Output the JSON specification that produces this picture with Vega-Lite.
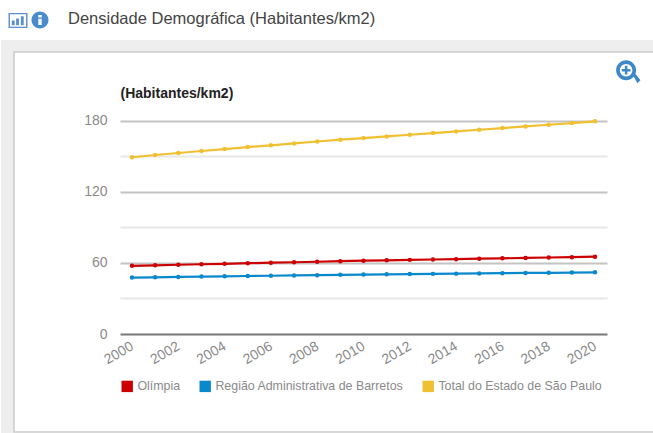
{"$schema":"https://vega.github.io/schema/vega-lite/v6.json","width":653,"height":433,"padding":0,"autosize":{"type":"none"},"background":"#ffffff","config":{"view":{"stroke":null},"font":"Liberation Sans"},
"title":{"text":"Densidade Demográfica (Habitantes/km2)","anchor":"start","frame":"group","dx":68,"offset":-27,"fontSize":16.5,"fontWeight":"normal","color":"#444444","font":"Liberation Sans"},
"datasets":{"series":[
{"year":"2000","s":"Olímpia","v":57.5},{"year":"2001","s":"Olímpia","v":57.9},{"year":"2002","s":"Olímpia","v":58.4},{"year":"2003","s":"Olímpia","v":58.8},{"year":"2004","s":"Olímpia","v":59.2},{"year":"2005","s":"Olímpia","v":59.7},{"year":"2006","s":"Olímpia","v":60.1},{"year":"2007","s":"Olímpia","v":60.5},{"year":"2008","s":"Olímpia","v":60.9},{"year":"2009","s":"Olímpia","v":61.4},{"year":"2010","s":"Olímpia","v":61.8},{"year":"2011","s":"Olímpia","v":62.1},{"year":"2012","s":"Olímpia","v":62.5},{"year":"2013","s":"Olímpia","v":62.8},{"year":"2014","s":"Olímpia","v":63.1},{"year":"2015","s":"Olímpia","v":63.5},{"year":"2016","s":"Olímpia","v":63.8},{"year":"2017","s":"Olímpia","v":64.1},{"year":"2018","s":"Olímpia","v":64.5},{"year":"2019","s":"Olímpia","v":64.8},{"year":"2020","s":"Olímpia","v":65.2},
{"year":"2000","s":"Região Administrativa de Barretos","v":47.6},{"year":"2001","s":"Região Administrativa de Barretos","v":47.8},{"year":"2002","s":"Região Administrativa de Barretos","v":48.1},{"year":"2003","s":"Região Administrativa de Barretos","v":48.4},{"year":"2004","s":"Região Administrativa de Barretos","v":48.6},{"year":"2005","s":"Região Administrativa de Barretos","v":48.9},{"year":"2006","s":"Região Administrativa de Barretos","v":49.1},{"year":"2007","s":"Região Administrativa de Barretos","v":49.4},{"year":"2008","s":"Região Administrativa de Barretos","v":49.6},{"year":"2009","s":"Região Administrativa de Barretos","v":49.9},{"year":"2010","s":"Região Administrativa de Barretos","v":50.1},{"year":"2011","s":"Região Administrativa de Barretos","v":50.3},{"year":"2012","s":"Região Administrativa de Barretos","v":50.5},{"year":"2013","s":"Região Administrativa de Barretos","v":50.7},{"year":"2014","s":"Região Administrativa de Barretos","v":50.9},{"year":"2015","s":"Região Administrativa de Barretos","v":51.1},{"year":"2016","s":"Região Administrativa de Barretos","v":51.3},{"year":"2017","s":"Região Administrativa de Barretos","v":51.5},{"year":"2018","s":"Região Administrativa de Barretos","v":51.6},{"year":"2019","s":"Região Administrativa de Barretos","v":51.8},{"year":"2020","s":"Região Administrativa de Barretos","v":52.0},
{"year":"2000","s":"Total do Estado de São Paulo","v":149.0},{"year":"2001","s":"Total do Estado de São Paulo","v":150.9},{"year":"2002","s":"Total do Estado de São Paulo","v":152.6},{"year":"2003","s":"Total do Estado de São Paulo","v":154.3},{"year":"2004","s":"Total do Estado de São Paulo","v":155.9},{"year":"2005","s":"Total do Estado de São Paulo","v":157.6},{"year":"2006","s":"Total do Estado de São Paulo","v":159.1},{"year":"2007","s":"Total do Estado de São Paulo","v":160.7},{"year":"2008","s":"Total do Estado de São Paulo","v":162.3},{"year":"2009","s":"Total do Estado de São Paulo","v":163.8},{"year":"2010","s":"Total do Estado de São Paulo","v":165.2},{"year":"2011","s":"Total do Estado de São Paulo","v":166.6},{"year":"2012","s":"Total do Estado de São Paulo","v":168.0},{"year":"2013","s":"Total do Estado de São Paulo","v":169.4},{"year":"2014","s":"Total do Estado de São Paulo","v":170.8},{"year":"2015","s":"Total do Estado de São Paulo","v":172.2},{"year":"2016","s":"Total do Estado de São Paulo","v":173.6},{"year":"2017","s":"Total do Estado de São Paulo","v":175.0},{"year":"2018","s":"Total do Estado de São Paulo","v":176.4},{"year":"2019","s":"Total do Estado de São Paulo","v":177.8},{"year":"2020","s":"Total do Estado de São Paulo","v":179.3}
]},
"layer":[
{"data":{"values":[{"p":"top"}]},"mark":{"type":"rect","fill":"#eeeeee"},"encoding":{"x":{"field":"p","type":"nominal","axis":null,"scale":{"type":"band","range":[1,653],"paddingInner":0,"paddingOuter":0}},"y":{"field":"p","type":"nominal","axis":null,"scale":{"type":"band","range":[40,52],"paddingInner":0,"paddingOuter":0}}}},
{"data":{"values":[{"p":"left"}]},"mark":{"type":"rect","fill":"#eeeeee"},"encoding":{"x":{"field":"p","type":"nominal","axis":null,"scale":{"type":"band","range":[1,14],"paddingInner":0,"paddingOuter":0}},"y":{"field":"p","type":"nominal","axis":null,"scale":{"type":"band","range":[40,433],"paddingInner":0,"paddingOuter":0}}}},
{"data":{"values":[{"p":"panel"}]},"mark":{"type":"rect","fill":null,"stroke":"#cccccc","strokeWidth":1.5},"encoding":{"x":{"field":"p","type":"nominal","axis":null,"scale":{"type":"band","range":[14,660],"paddingInner":0,"paddingOuter":0}},"y":{"field":"p","type":"nominal","axis":null,"scale":{"type":"band","range":[52,432],"paddingInner":0,"paddingOuter":0}}}},
{"data":{"values":[{"i":"chart"}]},"mark":{"type":"point","filled":true,"opacity":1,"size":361,"color":"#5b8fd0","shape":"M-1,-0.8L1,-0.8L1,0.8L-1,0.8ZM-0.85,-0.65L-0.85,0.65L0.85,0.65L0.85,-0.65ZM-0.65,0L-0.35,0L-0.35,0.5L-0.65,0.5ZM-0.2,-0.2L0.1,-0.2L0.1,0.5L-0.2,0.5ZM0.3,-0.45L0.6,-0.45L0.6,0.5L0.3,0.5Z"},"encoding":{"x":{"field":"i","type":"nominal","axis":null,"scale":{"type":"point","range":[18,18]}},"y":{"field":"i","type":"nominal","axis":null,"scale":{"type":"point","range":[20.5,20.5]}}}},
{"data":{"values":[{"i":"info"}]},"mark":{"type":"point","filled":true,"opacity":1,"size":289,"color":"#4a8bc9","shape":"M0,-1A1,1 0 1,1 0,1A1,1 0 1,1 0,-1ZM-0.2,-0.15L-0.2,0.6L0.2,0.6L0.2,-0.15ZM-0.2,-0.6L-0.2,-0.3L0.2,-0.3L0.2,-0.6Z"},"encoding":{"x":{"field":"i","type":"nominal","axis":null,"scale":{"type":"point","range":[40,40]}},"y":{"field":"i","type":"nominal","axis":null,"scale":{"type":"point","range":[20,20]}}}},
{"data":{"values":[{"i":"zoom"}]},"mark":{"type":"point","filled":true,"opacity":1,"size":625,"color":"#3f88c8","shape":"M-0.15,-0.95A0.8,0.8 0 1,1 -0.15,0.65A0.8,0.8 0 1,1 -0.15,-0.95ZM-0.15,-0.65A0.5,0.5 0 1,0 -0.15,0.35A0.5,0.5 0 1,0 -0.15,-0.65ZM-0.25,-0.5L-0.05,-0.5L-0.05,-0.25L0.2,-0.25L0.2,-0.05L-0.05,-0.05L-0.05,0.2L-0.25,0.2L-0.25,-0.05L-0.5,-0.05L-0.5,-0.25L-0.25,-0.25ZM0.4,0.25L0.55,0.1L1,0.65L0.75,0.9Z"},"encoding":{"x":{"field":"i","type":"nominal","axis":null,"scale":{"type":"point","range":[628,628]}},"y":{"field":"i","type":"nominal","axis":null,"scale":{"type":"point","range":[72,72]}}}},
{"data":{"name":"series"},"mark":{"type":"line","strokeWidth":2.2,"point":{"filled":true,"size":20}},"encoding":{
"x":{"field":"year","type":"ordinal","scale":{"type":"point","range":[132,595],"padding":0},"axis":{"title":null,"offset":-99,"zindex":0,"domain":false,"ticks":false,"values":["2000","2002","2004","2006","2008","2010","2012","2014","2016","2018","2020"],"labelAngle":-30,"labelAlign":"right","labelBaseline":"middle","labelPadding":11,"labelFontSize":14,"labelColor":"#8a8a8a","labelFont":"Liberation Sans","labelOverlap":false,"labelBound":false}},
"y":{"field":"v","type":"quantitative","scale":{"domain":[0,180],"range":[334,120.5],"nice":false,"zero":true},"axis":{"orient":"left","offset":-607,"zindex":0,"domain":false,"grid":false,"values":[0,30,60,90,120,150,180],"tickSize":487,"tickColor":{"condition":[{"test":"datum.value===0","value":"#777777"},{"test":"datum.value%60===0","value":"#c4c4c4"}],"value":"#e8e8e8"},"tickOpacity":1,"tickWidth":2,"labelExpr":"datum.value%60===0?datum.label:''","labelPadding":13,"labelFontSize":14,"labelColor":"#8a8a8a","labelFont":"Liberation Sans","title":"(Habitantes/km2)","titleAngle":0,"titleX":-487,"titleY":93,"titleAlign":"left","titleBaseline":"middle","titleFontSize":14,"titleFontWeight":"bold","titleColor":"#222222","titleFont":"Liberation Sans"}},
"color":{"field":"s","type":"nominal","scale":{"domain":["Olímpia","Região Administrativa de Barretos","Total do Estado de São Paulo"],"range":["#cc0000","#0a88cc","#f0c030"]},"legend":{"title":null,"orient":"none","legendX":121,"legendY":380,"direction":"horizontal","columns":3,"symbolType":"square","symbolSize":130,"symbolStrokeWidth":0,"labelFontSize":12.4,"labelLimit":400,"labelColor":"#8a8a8a","labelFont":"Liberation Sans","columnPadding":18,"labelOffset":4,"encode":{"symbols":{"update":{"fill":{"scale":"color","field":"value"},"opacity":{"value":1}}}}}}
}}
],
"resolve":{"scale":{"x":"independent","y":"independent"},"axis":{"x":"independent","y":"independent"}}}
